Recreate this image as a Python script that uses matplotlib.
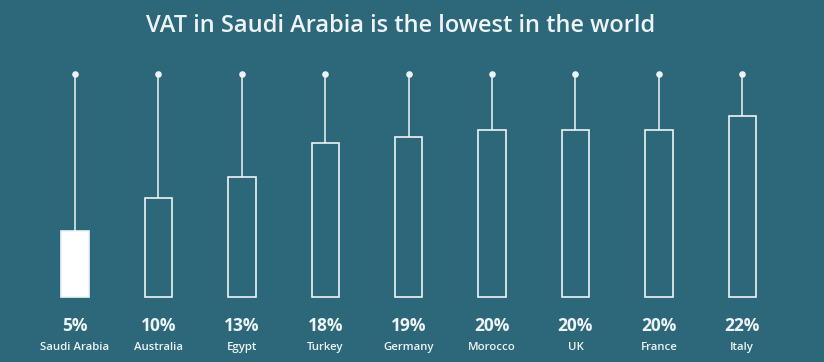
import numpy as np
import matplotlib.pyplot as plt

# ---- data --------------------------------------------------------------------
countries = ['Saudi Arabia', 'Australia', 'Egypt', 'Turkey', 'Germany',
             'Morocco', 'UK', 'France', 'Italy']
vat = [5, 10, 13, 18, 19, 20, 20, 20, 22]
labels = [f'{v}%' for v in vat]

# ---- style -------------------------------------------------------------------
bg = '#2c6879'
fg = '#eef4f5'
base = -4.7        # bars start below zero, as in the infographic
stem_top = 28.3    # level of the dots

fig = plt.figure(figsize=(8.24, 3.62), dpi=100, facecolor=bg)
ax = fig.add_axes([0, 0, 1, 1])
ax.set_facecolor(bg)
ax.set_xlim(-0.9, 8.98)
ax.set_ylim(-14.3, 39.2)
ax.axis('off')

x = np.arange(len(countries))
heights = np.array(vat) - base
faces = ['white'] + [bg] * (len(vat) - 1)
ax.bar(x, heights, bottom=base, width=0.33, color=faces, edgecolor=fg,
       linewidth=1.2, zorder=3)
ax.vlines(x, vat, stem_top, color=fg, linewidth=1.1, zorder=2)
ax.scatter(x, [stem_top] * len(x), s=14, color=fg, zorder=4)

for xi, lab, name in zip(x, labels, countries):
    ax.annotate(lab, (xi, base), xytext=(0, -21), textcoords='offset points',
                ha='center', va='center', color=fg, fontsize=12.5,
                fontweight='bold', family='Open Sans')
    ax.annotate(name, (xi, base), xytext=(0, -36.5), textcoords='offset points',
                ha='center', va='center', color=fg, fontsize=8.2,
                fontweight='semibold', family='Open Sans')

fig.text(0.486, 0.928, 'VAT in Saudi Arabia is the lowest in the world',
         ha='center', va='center', color=fg, fontsize=17, fontweight='semibold',
         family='Open Sans')

fig.savefig('out.png', dpi=100, facecolor=bg)
